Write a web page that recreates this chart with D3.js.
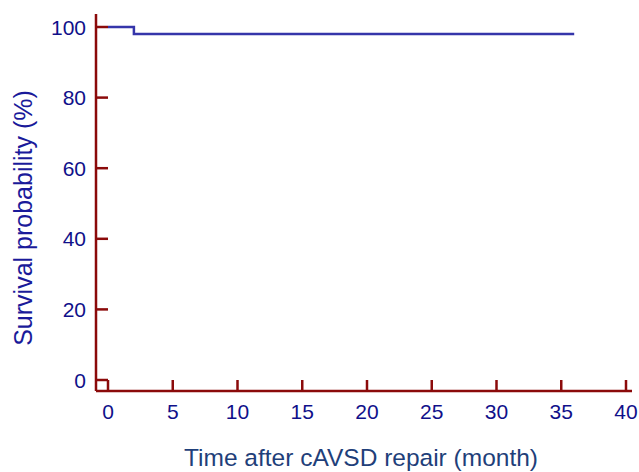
<!DOCTYPE html>
<html><head><meta charset="utf-8">
<script src="https://cdn.jsdelivr.net/npm/d3@7"></script>
<style>body{margin:0;background:#fff}svg{display:block}</style>
</head><body>
<script>
const timePoints = [0, 2, 2, 36];
const survival = [100, 100, 98, 98];
const xTicks = [0, 5, 10, 15, 20, 25, 30, 35, 40];
const yTicks = [0, 20, 40, 60, 80, 100];
const xTitle = "Time after cAVSD repair (month)";
const yTitle = "Survival probability (%)";

const W = 639, H = 472;
const FONT = "Liberation Sans, Arial, sans-serif";
const svg = d3.select("body").append("svg").attr("width", W).attr("height", H);
const x = d3.scaleLinear().domain([0, 40]).range([108, 626]);
const y = d3.scaleLinear().domain([0, 100]).range([380, 27]);
const axisColor = "#8B0A0A", labelColor = "#10108A";
const axisX0 = 96, axisY0 = 391;

svg.append("line").attr("x1", axisX0).attr("x2", axisX0).attr("y1", 14).attr("y2", axisY0)
  .attr("stroke", axisColor).attr("stroke-width", 2.5);
svg.append("line").attr("x1", axisX0).attr("x2", 632).attr("y1", axisY0).attr("y2", axisY0)
  .attr("stroke", axisColor).attr("stroke-width", 2.5);

const gy = svg.append("g");
yTicks.forEach(t => {
  gy.append("line").attr("x1", axisX0).attr("x2", axisX0 + 12).attr("y1", y(t)).attr("y2", y(t))
    .attr("stroke", axisColor).attr("stroke-width", 2.5);
  gy.append("text").attr("x", 86).attr("y", y(t) + 7.5).attr("text-anchor", "end")
    .attr("font-family", FONT).attr("font-size", 21)
    .attr("fill", labelColor).text(t);
});
const gx = svg.append("g");
xTicks.forEach(t => {
  gx.append("line").attr("x1", x(t)).attr("x2", x(t)).attr("y1", axisY0).attr("y2", axisY0 - 11)
    .attr("stroke", axisColor).attr("stroke-width", 2.5);
  gx.append("text").attr("x", x(t)).attr("y", 419).attr("text-anchor", "middle")
    .attr("font-family", FONT).attr("font-size", 21)
    .attr("fill", labelColor).text(t);
});

const line = d3.line().x((d, i) => x(timePoints[i])).y(d => y(d));
svg.append("path").datum(survival).attr("d", line).attr("fill", "none")
  .attr("stroke", "#3535AA").attr("stroke-width", 2.5);

svg.append("text").attr("x", 361).attr("y", 466).attr("text-anchor", "middle")
  .attr("font-family", FONT).attr("font-size", 24.5)
  .attr("fill", "#1F3F7A").text(xTitle);
svg.append("text").attr("transform", "translate(32,218) rotate(-90)").attr("text-anchor", "middle")
  .attr("font-family", FONT).attr("font-size", 25)
  .attr("fill", "#1A1A9A").text(yTitle);
</script>
</body></html>
